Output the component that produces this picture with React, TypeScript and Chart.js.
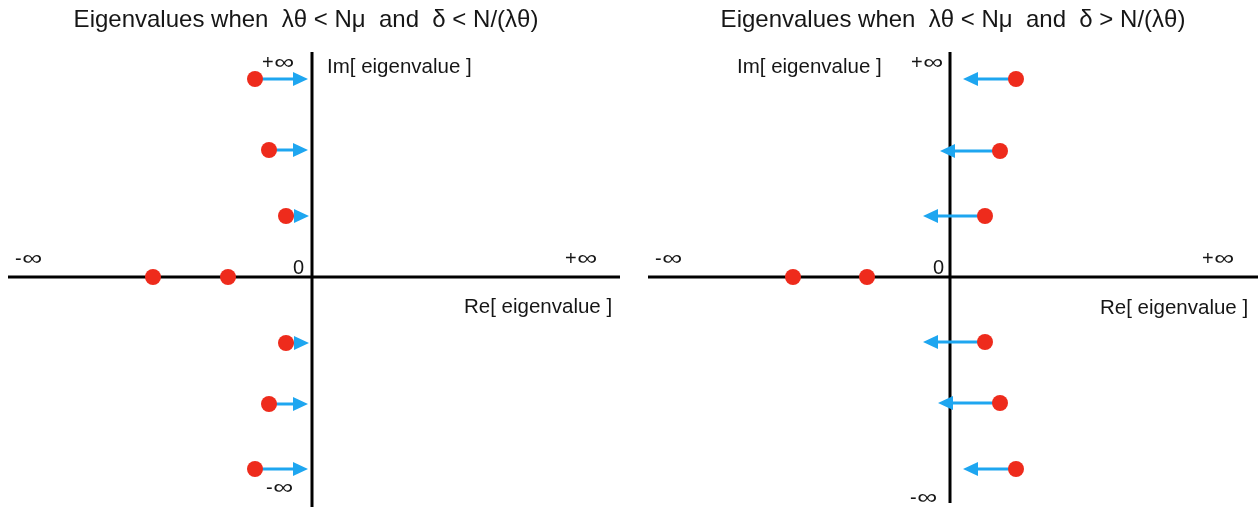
import React, { useEffect, useRef } from "react";
import { Chart, registerables } from "chart.js";

Chart.register(...registerables);

// Left panel: complex eigenvalues drift right toward the imaginary axis
const leftRe = [-0.57, -0.43, -0.26, -0.26, -0.43, -0.57];
const leftIm = [1.98, 1.27, 0.61, -0.66, -1.27, -1.92];
const leftTip = [-0.04, -0.04, -0.03, -0.03, -0.04, -0.04];
const leftReal = [-1.59, -0.84];

// Right panel: complex eigenvalues sit to the right and move left
const rightRe = [0.66, 0.5, 0.35, 0.35, 0.5, 0.66];
const rightIm = [1.98, 1.26, 0.61, -0.65, -1.26, -1.92];
const rightTip = [0.13, -0.1, -0.27, -0.27, -0.12, 0.13];
const rightReal = [-1.57, -0.83];

const leftTitle = "Eigenvalues when  \u03bb\u03b8 < N\u03bc  and  \u03b4 < N/(\u03bb\u03b8)";
const rightTitle = "Eigenvalues when  \u03bb\u03b8 < N\u03bc  and  \u03b4 > N/(\u03bb\u03b8)";
const imLabel = "Im[ eigenvalue ]";
const reLabel = "Re[ eigenvalue ]";
const zeroLabel = "0";
const INF = "\u221e";

const RED = "#ee2b1c";
const BLUE = "#1ea6f0";
const INK = "#161616";
const FONT = '"Liberation Sans", Arial, Helvetica, sans-serif';

type Label = {
  text: string;
  x: number;
  y: number;
  size: number;
  align?: CanvasTextAlign;
  inf?: boolean; // sign followed by a widened infinity glyph
};

type PanelProps = {
  re: number[];
  im: number[];
  tip: number[];
  real: number[];
  xRange: [number, number];
  yRange: [number, number];
  padding: { left: number; right: number; top: number; bottom: number };
  labels: Label[];
  offsetX: number;
};

function Panel(props: PanelProps) {
  const ref = useRef<HTMLCanvasElement | null>(null);

  useEffect(() => {
    const canvas = ref.current;
    if (!canvas) return;
    const { re, im, tip, real, xRange, yRange, padding, labels } = props;

    const dots = [
      ...real.map((x) => ({ x, y: 0 })),
      ...re.map((x, i) => ({ x, y: im[i] })),
    ];

    const diagram = {
      id: "diagram",
      beforeDatasetsDraw(chart: any) {
        const { ctx, chartArea, scales } = chart;
        const sx = scales.x;
        const sy = scales.y;
        const ox = sx.getPixelForValue(0);
        const oy = sy.getPixelForValue(0);
        ctx.save();
        // cross axes
        ctx.strokeStyle = "#000";
        ctx.lineWidth = 3;
        ctx.beginPath();
        ctx.moveTo(chartArea.left, oy);
        ctx.lineTo(chartArea.right, oy);
        ctx.moveTo(ox, chartArea.top);
        ctx.lineTo(ox, chartArea.bottom);
        ctx.stroke();
        // drift arrows
        const headLen = 15;
        const headHalf = 7;
        ctx.strokeStyle = BLUE;
        ctx.fillStyle = BLUE;
        ctx.lineWidth = 3;
        re.forEach((x, i) => {
          const x0 = sx.getPixelForValue(x);
          const x1 = sx.getPixelForValue(tip[i]);
          const y = sy.getPixelForValue(im[i]);
          const dir = x1 > x0 ? 1 : -1;
          const base = x1 - dir * headLen;
          ctx.beginPath();
          ctx.moveTo(x0, y);
          ctx.lineTo(base + dir * 1, y);
          ctx.stroke();
          ctx.beginPath();
          ctx.moveTo(x1, y);
          ctx.lineTo(base, y - headHalf);
          ctx.lineTo(base, y + headHalf);
          ctx.closePath();
          ctx.fill();
        });
        ctx.restore();
      },
      afterDraw(chart: any) {
        const { ctx } = chart;
        ctx.save();
        ctx.fillStyle = INK;
        ctx.textBaseline = "alphabetic";
        labels.forEach((l) => {
          ctx.font = `${l.size}px ${FONT}`;
          ctx.textAlign = l.align || "left";
          if (l.inf) {
            ctx.textAlign = "left";
            ctx.fillText(l.text, l.x, l.y);
            const w = ctx.measureText(l.text).width;
            ctx.save();
            ctx.translate(l.x + w + 0.5, l.y);
            ctx.scale(1.4, 1.05);
            ctx.fillText(INF, 0, 0);
            ctx.restore();
          } else {
            ctx.fillText(l.text, l.x, l.y);
          }
        });
        ctx.restore();
      },
    };

    const chart = new Chart(canvas, {
      type: "scatter",
      data: {
        datasets: [
          {
            data: dots,
            pointRadius: 8,
            pointHoverRadius: 8,
            backgroundColor: RED,
            borderWidth: 0,
          },
        ],
      },
      options: {
        responsive: false,
        animation: false,
        events: [],
        layout: { padding, autoPadding: false },
        clip: false as any,
        scales: {
          x: { type: "linear", min: xRange[0], max: xRange[1], display: false },
          y: { type: "linear", min: yRange[0], max: yRange[1], display: false },
        },
        plugins: {
          legend: { display: false },
          tooltip: { enabled: false },
          title: { display: false },
        },
      },
      plugins: [diagram],
    });

    return () => chart.destroy();
  }, []);

  return (
    <canvas
      ref={ref}
      width={630}
      height={507}
      style={{ position: "absolute", left: props.offsetX, top: 0, width: 630, height: 507 }}
    />
  );
}

export default function App() {
  return (
    <div
      style={{
        position: "absolute",
        left: 0,
        top: 0,
        width: 1260,
        height: 507,
        background: "#fff",
        overflow: "hidden",
      }}
    >
      <Panel
        re={leftRe}
        im={leftIm}
        tip={leftTip}
        real={leftReal}
        xRange={[-3.04, 3.08]}
        yRange={[-2.3, 2.25]}
        padding={{ left: 8, right: 10, top: 52, bottom: 0 }}
        offsetX={0}
        labels={[
          { text: leftTitle, x: 306, y: 27, size: 24, align: "center" },
          { text: imLabel, x: 327, y: 73, size: 20.5 },
          { text: "+", x: 262, y: 69, size: 20, inf: true },
          { text: "-", x: 15, y: 265, size: 20, inf: true },
          { text: "+", x: 565, y: 265, size: 20, inf: true },
          { text: zeroLabel, x: 293, y: 274, size: 20 },
          { text: reLabel, x: 464, y: 313, size: 20.5 },
          { text: "-", x: 266, y: 494, size: 20, inf: true },
        ]}
      />
      <Panel
        re={rightRe}
        im={rightIm}
        tip={rightTip}
        real={rightReal}
        xRange={[-3.02, 3.08]}
        yRange={[-2.26, 2.25]}
        padding={{ left: 18, right: 2, top: 52, bottom: 4 }}
        offsetX={630}
        labels={[
          { text: rightTitle, x: 323, y: 27, size: 24, align: "center" },
          { text: imLabel, x: 107, y: 73, size: 20.5 },
          { text: "+", x: 281, y: 69, size: 20, inf: true },
          { text: "-", x: 25, y: 265, size: 20, inf: true },
          { text: "+", x: 572, y: 265, size: 20, inf: true },
          { text: zeroLabel, x: 303, y: 274, size: 20 },
          { text: reLabel, x: 470, y: 314, size: 20.5 },
          { text: "-", x: 280, y: 504, size: 20, inf: true },
        ]}
      />
    </div>
  );
}
